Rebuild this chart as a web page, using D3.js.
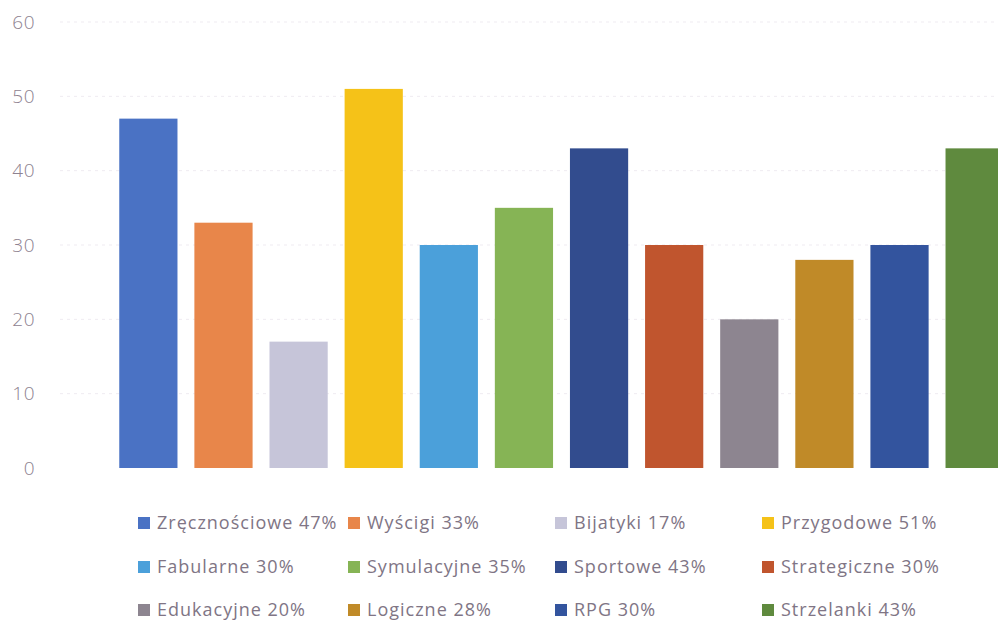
<!DOCTYPE html>
<html><head><meta charset="utf-8">
<script src="https://cdn.jsdelivr.net/npm/d3@7"></script>
<style>
html,body{margin:0;padding:0;background:#fff;overflow:hidden}
svg{display:block}
</style></head>
<body>
<svg id="chart" width="998" height="620"></svg>
<script>
const categories = ["Zręcznościowe","Wyścigi","Bijatyki","Przygodowe","Fabularne","Symulacyjne","Sportowe","Strategiczne","Edukacyjne","Logiczne","RPG","Strzelanki"];
const values = [47,33,17,51,30,35,43,30,20,28,30,43];
const colors = ["#4a72c4","#e8864a","#c6c5d9","#f5c218","#4ba0da","#86b455","#324c8e","#c0552e","#8d8590","#c08a28","#33549e","#5f8a3e"];
const yTicks = [0,10,20,30,40,50,60];

const svg = d3.select("#chart");
const y = d3.scaleLinear().domain([0,60]).range([468,22]);
const x = d3.scaleBand().domain(categories).range([111,1012]).paddingInner(0.225).paddingOuter(0.11);

// gridlines
svg.append("g").selectAll("line").data(yTicks.filter(d=>d>0)).join("line")
  .attr("x1",60).attr("x2",998)
  .attr("y1",d=>y(d)).attr("y2",d=>y(d))
  .attr("stroke","#efebf1").attr("stroke-width",1).attr("stroke-dasharray","3,4");

// y axis labels
const yAxis = d3.axisLeft(y).tickValues(yTicks).tickSize(0).tickPadding(0).tickFormat(d3.format("d"));
const ga = svg.append("g").attr("transform","translate(35,0)").call(yAxis);
ga.select(".domain").remove();
ga.selectAll("text").attr("font-family","'Open Sans', sans-serif").attr("font-size","19px").attr("font-weight","300")
  .attr("letter-spacing","0.5px").attr("fill","#8e8290");

// bars
svg.append("g").selectAll("rect").data(values).join("rect")
  .attr("x",(d,i)=>x(categories[i]))
  .attr("width",x.bandwidth())
  .attr("y",d=>y(d))
  .attr("height",d=>y(0)-y(d))
  .attr("fill",(d,i)=>colors[i]);

// legend
const colX = [138,348,555,762];
const rowY = [523,567,610];
const lg = svg.append("g").selectAll("g").data(categories).join("g")
  .attr("transform",(d,i)=>`translate(${colX[i%4]},${rowY[Math.floor(i/4)]})`);
lg.append("rect").attr("x",0).attr("y",-6).attr("width",12).attr("height",12).attr("fill",(d,i)=>colors[i]);
lg.append("text").attr("x",19).attr("y",0).attr("dy","0.35em")
  .attr("font-family","'Open Sans', sans-serif").attr("font-size","18px").attr("letter-spacing","1px").attr("fill","#807585")
  .text((d,i)=>`${d} ${values[i]}%`);
</script>
</body></html>
